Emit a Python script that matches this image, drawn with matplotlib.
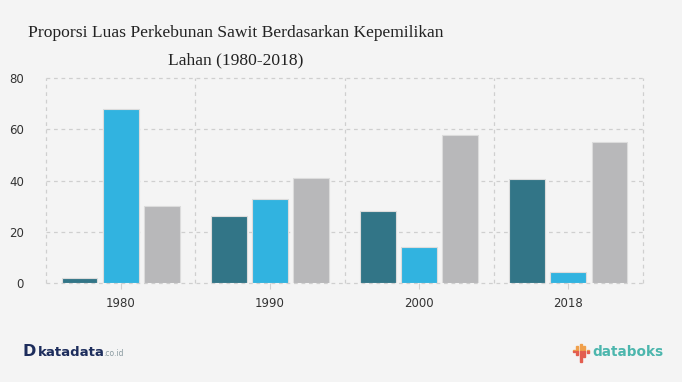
import matplotlib.pyplot as plt
import matplotlib.patches as mpatches
import numpy as np

# data
years = ["1980", "1990", "2000", "2018"]
rakyat = [1.8, 26.0, 28.1, 40.6]
negara = [67.8, 32.8, 14.1, 4.2]
swasta = [30.2, 41.0, 57.8, 55.2]
series = [rakyat, negara, swasta]
colors = ["#327587", "#31b3e0", "#b8b8ba"]
yticks = [0, 20, 40, 60, 80]

bg = "#f4f4f4"
fig = plt.figure(figsize=(6.82, 3.82), dpi=100, facecolor=bg)
ax = fig.add_axes([46 / 682, 1 - 283 / 382, 597 / 682, 205 / 382])
ax.set_facecolor(bg)

x = np.arange(len(years))
width = 0.24
step = 0.275
for i, (vals, c) in enumerate(zip(series, colors)):
    ax.bar(x + (i - 1) * step, vals, width, color=c,
           edgecolor="#dcdcdc", linewidth=0.8, zorder=3)

ax.set_xlim(-0.5, len(years) - 0.5)
ax.set_ylim(0, 80)
ax.set_yticks(yticks)
ax.set_xticks(x)
ax.set_xticklabels(years)
ax.tick_params(axis="x", length=4, color="#d0d0d0",
               labelsize=8.5, labelcolor="#333333", pad=6)
ax.tick_params(axis="y", length=0, labelsize=8.5, labelcolor="#333333", pad=16)

grid_kw = dict(color="#cfcfcf", linestyle=(0, (3, 3)), linewidth=0.9,
               zorder=0, clip_on=False)
for yv in yticks:
    ax.axhline(yv, **grid_kw)
for xv in np.arange(-0.5, len(years)):
    ax.axvline(xv, **grid_kw)
for s in ax.spines.values():
    s.set_visible(False)

fig.text(236 / 682, 1 - 33 / 382,
         "Proporsi Luas Perkebunan Sawit Berdasarkan Kepemilikan",
         ha="center", va="center", fontsize=12.6, family="Liberation Serif",
         color="#222222")
fig.text(236 / 682, 1 - 60 / 382, "Lahan (1980-2018)",
         ha="center", va="center", fontsize=12.6, family="Liberation Serif",
         color="#222222")

# footer logos
fig.text(22 / 682, 1 - 352 / 382, "D", ha="left", va="center", fontsize=11.5,
         fontweight="bold", color="#1d2d5c")
fig.text(38 / 682, 1 - 352 / 382, "katadata", ha="left", va="center",
         fontsize=9.5, fontweight="semibold", color="#1d2d5c")
fig.text(103 / 682, 1 - 354 / 382, ".co.id", ha="left", va="center",
         fontsize=5.5, color="#8a9aa0")

icon_x = [572.5, 576, 579.5, 583, 586.5]
icon_top = [350, 346, 344, 346, 350]
icon_bot = [352, 355, 362, 357, 353]
split = 351
for ix, it, ib in zip(icon_x, icon_top, icon_bot):
    if it < split:
        fig.patches.append(mpatches.Rectangle(
            (ix / 682, 1 - min(ib, split) / 382), 2.2 / 682,
            (min(ib, split) - it) / 382, transform=fig.transFigure,
            color="#f0a04b"))
    if ib > split:
        fig.patches.append(mpatches.Rectangle(
            (ix / 682, 1 - ib / 382), 2.2 / 682,
            (ib - max(it, split)) / 382, transform=fig.transFigure,
            color="#e35d4f"))
fig.text(592 / 682, 1 - 352 / 382, "databoks", ha="left", va="center",
         fontsize=9.8, color="#4cb6ad", fontweight="semibold")

fig.savefig("out.png", dpi=100, facecolor=bg)
